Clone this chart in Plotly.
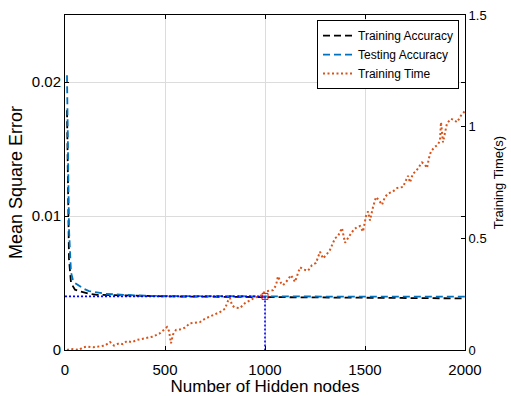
import plotly.graph_objects as go

# ---- data ----
mse_nodes = [10, 20, 30, 40, 50, 70, 90, 120, 160, 200, 250, 300, 400, 500, 600, 700, 800, 900,
             1000, 1100, 1200, 1300, 1400, 1500, 1600, 1700, 1800, 1900, 2000]
train_mse = [0.0179, 0.0068, 0.0050, 0.0047, 0.0045, 0.0044, 0.0043, 0.0042, 0.00412, 0.00410,
             0.00407, 0.00405, 0.00402, 0.00400, 0.00399, 0.00398, 0.00397, 0.00396,
             0.00395, 0.00393, 0.00392, 0.00391, 0.00390, 0.00389, 0.00388, 0.00387, 0.00386, 0.00386, 0.00385]
test_mse = [0.0205, 0.0090, 0.0058, 0.0052, 0.0050, 0.0048, 0.0046, 0.0044, 0.0043, 0.00420,
            0.00415, 0.00410, 0.00405, 0.00403, 0.00402, 0.00401, 0.00401, 0.00400,
            0.00400, 0.00400, 0.00399, 0.00399, 0.00399, 0.00398, 0.00398, 0.00398, 0.00398, 0.00398, 0.00398]

time_nodes = [10, 30, 50, 70, 90, 110, 140, 170, 200, 225, 245, 270, 290, 310, 335, 360, 385, 410,
              440, 475, 495, 510, 520, 530, 540, 555, 575, 600, 625, 650, 675, 700, 725, 750, 775,
              800, 815, 825, 835, 850, 875, 900, 925, 950, 975, 1000, 1020, 1040, 1055, 1065, 1080,
              1090, 1110, 1130, 1150, 1175, 1195, 1215, 1235, 1255, 1275, 1290, 1310, 1325, 1350,
              1365, 1385, 1400, 1425, 1445, 1460, 1475, 1490, 1505, 1515, 1525, 1540, 1555, 1570,
              1585, 1600, 1615, 1640, 1660, 1690, 1705, 1715, 1725, 1740, 1755, 1770, 1785, 1800,
              1810, 1820, 1830, 1850, 1865, 1875, 1880, 1890, 1900, 1910, 1930, 1945, 1960, 1980, 2000]
train_time = [0.0, 0.005, 0.003, 0.0, 0.012, 0.015, 0.012, 0.015, 0.02, 0.036, 0.02, 0.03, 0.026,
              0.04, 0.035, 0.045, 0.05, 0.055, 0.06, 0.075, 0.09, 0.103, 0.085, 0.03, 0.07, 0.09,
              0.092, 0.10, 0.12, 0.123, 0.125, 0.14, 0.15, 0.16, 0.17, 0.185, 0.22, 0.233, 0.2, 0.19,
              0.188, 0.21, 0.222, 0.235, 0.24, 0.262, 0.265, 0.268, 0.29, 0.33, 0.30, 0.29, 0.31,
              0.335, 0.305, 0.37, 0.36, 0.355, 0.38, 0.39, 0.44, 0.41, 0.43, 0.448, 0.50, 0.51,
              0.546, 0.48, 0.515, 0.54, 0.55, 0.555, 0.53, 0.60, 0.62, 0.58, 0.64, 0.685, 0.67,
              0.65, 0.685, 0.70, 0.71, 0.725, 0.73, 0.76, 0.78, 0.75, 0.79, 0.80, 0.82, 0.84, 0.83,
              0.815, 0.86, 0.89, 0.91, 0.92, 0.94, 1.02, 0.93, 0.98, 1.015, 1.035, 1.03, 1.02, 1.05, 1.07]

opt_nodes = 1000
opt_mse = 0.004

x_ticks = [0, 500, 1000, 1500, 2000]
y_ticks = [0, 0.01, 0.02]
y_tick_labels = ["0", "0.01", "0.02"]
y2_ticks = [0, 0.5, 1, 1.5]
y2_tick_labels = ["0", "0.5", "1", "1.5"]

FONT = "Liberation Sans, Arial, Helvetica, sans-serif"

fig = go.Figure()
fig.add_trace(go.Scatter(x=mse_nodes, y=train_mse, mode="lines", name="Training Accuracy",
                         line=dict(color="#000000", width=1.8, dash="7px,4px")))
fig.add_trace(go.Scatter(x=mse_nodes, y=test_mse, mode="lines", name="Testing Accuracy",
                         line=dict(color="#0072BD", width=1.8, dash="7px,4px")))
fig.add_trace(go.Scatter(x=time_nodes, y=train_time, mode="lines", name="Training Time",
                         line=dict(color="#D95319", width=2, dash="2px,2.5px"), yaxis="y2"))
# optimum guide lines
fig.add_trace(go.Scatter(x=[0, opt_nodes, opt_nodes], y=[opt_mse, opt_mse, 0], mode="lines",
                         line=dict(color="#0000FF", width=1.6, dash="2px,2px"), showlegend=False))
fig.add_trace(go.Scatter(x=[opt_nodes], y=[opt_mse], mode="markers",
                         marker=dict(symbol="square-open", size=6, color="#FF0000", line=dict(width=1)),
                         showlegend=False))

fig.update_layout(
    width=511, height=396,
    margin=dict(l=65, r=46, t=15, b=46),
    paper_bgcolor="white", plot_bgcolor="white",
    font=dict(family=FONT, color="black"),
    showlegend=True,
    legend=dict(x=0.985, y=0.985, xanchor="right", yanchor="top",
                bgcolor="white", bordercolor="black", borderwidth=1,
                font=dict(size=12, family=FONT), itemwidth=30, tracegroupgap=0),
    xaxis=dict(range=[0, 2000], tickvals=x_ticks, ticks="inside", ticklen=4, tickcolor="black",
               showline=True, linecolor="black", linewidth=1, mirror="ticks", automargin=False,
               showgrid=True, gridcolor="#DCDCDC", zeroline=False, ticklabelstandoff=6,
               tickfont=dict(size=15), title=dict(text="Number of Hidden nodes", font=dict(size=17), standoff=2)),
    yaxis=dict(range=[0, 0.025], tickvals=y_ticks, ticktext=y_tick_labels, ticks="inside", ticklen=4,
               tickcolor="black", showline=True, linecolor="black", linewidth=1, mirror="ticks",
               showgrid=True, gridcolor="#DCDCDC", zeroline=False, automargin=False,
               tickfont=dict(size=15), title=dict(text="Mean Square Error", font=dict(size=18), standoff=4)),
    yaxis2=dict(range=[0, 1.5], tickvals=y2_ticks, ticktext=y2_tick_labels, overlaying="y", side="right",
                ticks="inside", ticklen=4, tickcolor="black", showline=True, linecolor="black", linewidth=1,
                showgrid=False, zeroline=False, tickfont=dict(size=13), automargin=False,
                title=dict(text="Training Time(s)", font=dict(size=13), standoff=8)),
)

fig.write_html("out.html")
